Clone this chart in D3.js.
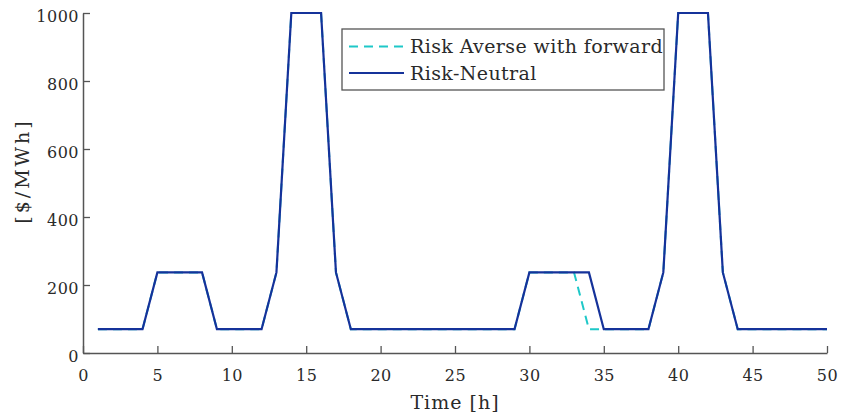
<!DOCTYPE html>
<html>
<head>
<meta charset="utf-8">
<script src="https://cdn.jsdelivr.net/npm/d3@7"></script>
<style>
  body { margin: 0; background: #fff; }
  svg { display: block; font-family: "DejaVu Serif", serif; }
</style>
</head>
<body>
<div id="chart"></div>
<script>
// hourly prices, hours 1..50
const hours = d3.range(1, 51);
const riskNeutral = [
  70, 70, 70, 70, 237, 237, 237, 237, 70, 70,
  70, 70, 237, 1000, 1000, 1000, 237, 70, 70, 70,
  70, 70, 70, 70, 70, 70, 70, 70, 70, 237,
  237, 237, 237, 237, 70, 70, 70, 70, 237, 1000,
  1000, 1000, 237, 70, 70, 70, 70, 70, 70, 70
];
const riskAverseFwd = [
  70, 70, 70, 70, 237, 237, 237, 237, 70, 70,
  70, 70, 237, 1000, 1000, 1000, 237, 70, 70, 70,
  70, 70, 70, 70, 70, 70, 70, 70, 70, 237,
  237, 237, 237, 70, 70, 70, 70, 70, 237, 1000,
  1000, 1000, 237, 70, 70, 70, 70, 70, 70, 70
];
const xTicks = [0, 5, 10, 15, 20, 25, 30, 35, 40, 45, 50];
const yTicks = [0, 200, 400, 600, 800, 1000];
const seriesNames = ["Risk Averse with forward", "Risk-Neutral"];

const W = 842, H = 416;
const margin = {top: 13, right: 15, bottom: 63, left: 83};

const svg = d3.select("#chart").append("svg")
  .attr("width", W).attr("height", H);

const x = d3.scaleLinear().domain([0, 50]).range([margin.left, W - margin.right]);
const y = d3.scaleLinear().domain([0, 1000]).range([H - margin.bottom, margin.top]);

const axisColor = "#555";
const textColor = "#2a2a2a";

// axes, ticks pointing inwards
const gx = svg.append("g")
  .attr("transform", `translate(0,${y(0)})`)
  .call(d3.axisBottom(x).tickValues(xTicks).tickFormat(d3.format("d"))
    .tickSize(-7).tickPadding(17).tickSizeOuter(0));
const gy = svg.append("g")
  .attr("transform", `translate(${x(0)},0)`)
  .call(d3.axisLeft(y).tickValues(yTicks).tickFormat(d3.format("d"))
    .tickSize(-7).tickPadding(4).tickSizeOuter(0));

[gx, gy].forEach(g => {
  g.select(".domain").attr("stroke", axisColor).attr("stroke-width", 1.5);
  g.selectAll(".tick line").attr("stroke", axisColor).attr("stroke-width", 1.3);
  g.selectAll(".tick text")
    .attr("fill", textColor)
    .style("font-family", "DejaVu Serif, serif")
    .style("font-size", "16px")
    .style("letter-spacing", "0.5px");
});
gy.selectAll(".tick text").attr("dy", "0.5em");

// axis labels
svg.append("text")
  .attr("x", (x(0) + x(50)) / 2).attr("y", 409)
  .attr("text-anchor", "middle")
  .attr("fill", textColor)
  .style("font-size", "19px")
  .style("letter-spacing", "1px")
  .text("Time [h]");
svg.append("text")
  .attr("transform", `translate(29,${(y(0) + y(1000)) / 2 - 12}) rotate(-90)`)
  .attr("text-anchor", "middle")
  .attr("fill", textColor)
  .style("font-size", "19px")
  .style("letter-spacing", "3px")
  .text("[$/MWh]");

// series
const line = d3.line().x((d, i) => x(hours[i])).y(d => y(d));

svg.append("path")
  .datum(riskAverseFwd)
  .attr("fill", "none")
  .attr("stroke", "#1ec8c8")
  .attr("stroke-width", 2)
  .attr("stroke-dasharray", "9,6")
  .attr("d", line);

svg.append("path")
  .datum(riskNeutral)
  .attr("fill", "none")
  .attr("stroke", "#15329a")
  .attr("stroke-width", 2.2)
  .attr("d", line);

// legend
const lg = svg.append("g").attr("transform", "translate(342,29)");
lg.append("rect")
  .attr("width", 322).attr("height", 61)
  .attr("fill", "#fff")
  .attr("stroke", axisColor).attr("stroke-width", 1.3);

const legendStyles = [
  {color: "#1ec8c8", dash: "9,6", w: 2},
  {color: "#15329a", dash: null, w: 2.2}
];
seriesNames.forEach((name, i) => {
  const row = lg.append("g").attr("transform", `translate(0,${17.5 + i * 26.5})`);
  row.append("line")
    .attr("x1", 7).attr("x2", 62)
    .attr("stroke", legendStyles[i].color)
    .attr("stroke-width", legendStyles[i].w)
    .attr("stroke-dasharray", legendStyles[i].dash);
  row.append("text")
    .attr("x", 68).attr("dy", "0.35em")
    .attr("fill", textColor)
    .style("font-size", "19px")
    .style("letter-spacing", "0.4px")
    .text(name);
});
</script>
</body>
</html>
